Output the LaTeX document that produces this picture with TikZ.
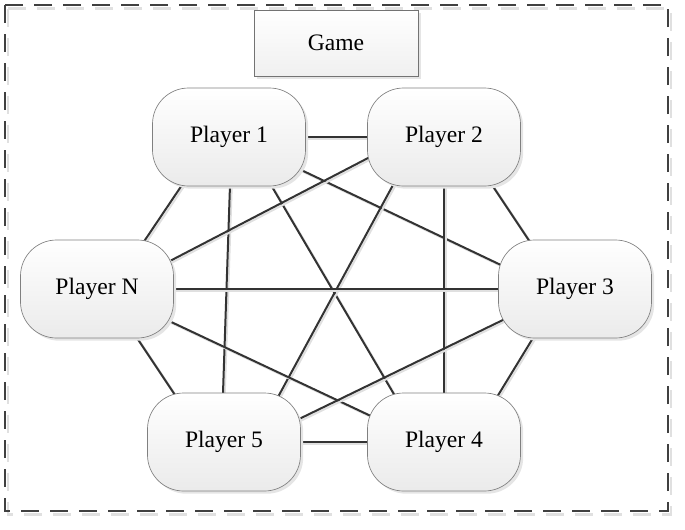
\documentclass[tikz,border=0pt]{standalone}
\usepackage{fontspec}
\setmainfont{Liberation Serif}
\usetikzlibrary{shadows,backgrounds,calc}

\tikzset{
    player/.style={draw=black!50, line width=0.5pt, rounded corners=27pt,
        minimum width=114.75pt, minimum height=73.5pt, inner sep=0pt,
        top color=white, bottom color=black!8,
        drop shadow={shadow xshift=2pt, shadow yshift=-2pt, fill=black!10, opacity=1},
        font=\fontsize{17.7}{20}\selectfont},
    gamebox/.style={draw=black!55, line width=0.5pt,
        minimum width=123pt, minimum height=49.5pt, inner sep=0pt,
        top color=white, bottom color=black!6,
        drop shadow={shadow xshift=2pt, shadow yshift=-2pt, fill=black!10, opacity=1},
        font=\fontsize{17.7}{20}\selectfont},
    link/.style={draw=black!80, line width=1.5pt, shorten <=-8pt, shorten >=-8pt,
        preaction={draw=black!12, line width=1.5pt, transform canvas={xshift=1.3pt, yshift=-1.3pt}}},
    frame/.style={draw=black!75, line width=2pt, dash pattern={on 13.5pt off 8.25pt},
        preaction={draw=black!12, line width=2pt, dash pattern={on 13.5pt off 8.25pt}, transform canvas={xshift=2.2pt, yshift=-2.8pt}}}
}

\begin{document}
\begin{tikzpicture}[x=0.75pt,y=0.75pt,yscale=-1,xscale=1]
    \useasboundingbox (0,0) rectangle (685,529);
    % outer frame
    \draw [frame] (5,5) rectangle (668,511);
    % game and players
    \node [gamebox] (game) at (336,43) {Game};
    \node [player] (p1) at (229,137) {Player 1};
    \node [player] (p2) at (444,137) {Player 2};
    \node [player] (p3) at (575,289) {Player 3};
    \node [player] (p4) at (444,442) {Player 4};
    \node [player] (p5) at (224,442) {Player 5};
    \node [player] (pN) at (97,289) {Player N};
    % links between every pair of players
    \begin{scope}[on background layer]
        \draw [link] (p1.east) -- (p2.west);
        \draw [link] ($(p1)+(-47,48)$) -- ($(pN)+(46,-46)$);
        \draw [link] ($(p1)+(1,48)$) -- ($(p5)+(-1,-49)$);
        \draw [link] ($(p1)+(42,48)$) -- ($(p4)+(-49,-46)$);
        \draw [link] ($(p1)+(68,31)$) -- ($(p3)+(-72,-23)$);
        \draw [link] ($(p2)+(-74,20)$) -- ($(pN)+(71,-27)$);
        \draw [link] ($(p2)+(-51,48)$) -- ($(p5)+(54,-45)$);
        \draw [link] (p2.south) -- (p4.north);
        \draw [link] ($(p2)+(48,48)$) -- ($(p3)+(-45,-47)$);
        \draw [link] (pN.east) -- (p3.west);
        \draw [link] ($(pN)+(70,31)$) -- ($(p4)+(-71,-25)$);
        \draw [link] ($(pN)+(40,49)$) -- ($(p5)+(-49,-47)$);
        \draw [link] ($(p3)+(-68,29)$) -- ($(p5)+(73,-22)$);
        \draw [link] ($(p3)+(-42,49)$) -- ($(p4)+(53,-45)$);
        \draw [link] (p5.east) -- (p4.west);
    \end{scope}
\end{tikzpicture}
\end{document}
